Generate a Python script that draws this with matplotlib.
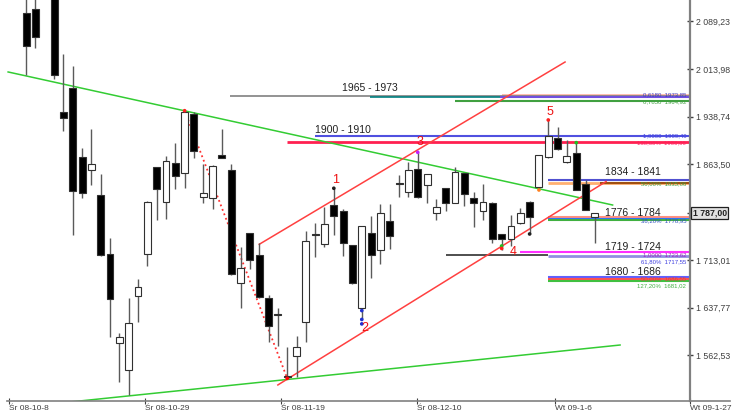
import matplotlib
matplotlib.use('Agg')
import matplotlib.pyplot as plt
from matplotlib.patches import Rectangle
from matplotlib.lines import Line2D

plt.rcParams['font.family'] = ['Liberation Sans', 'DejaVu Sans']

# ---------------- data ----------------
idx = [0, 1, 3, 4, 5, 6, 7, 8, 9, 10, 11, 12, 13, 14, 15, 16, 17, 18, 19, 20,
       21, 22, 23, 24, 25, 26, 27, 28, 29, 30, 31, 32, 33, 34, 35, 36, 37, 38,
       39, 40, 41, 42, 43, 44, 45, 46, 47, 48, 49, 50, 51, 52, 53, 54, 55, 56,
       57, 58, 59, 60, 61]
opens = [2102.8, 2108.1, 2140.0, 1946.7, 1984.5, 1874.7, 1854.2, 1815.3, 1722.3, 1581.4,
         1539.3, 1656.0, 1721.8, 1859.0, 1803.8, 1866.2, 1849.5, 1943.0, 1811.7, 1810.1,
         1878.4, 1854.7, 1677.0, 1754.9, 1720.7, 1652.4, 1628.0, 1530.0, 1561.4, 1615.5,
         1753.5, 1738.0, 1799.5, 1790.1, 1736.5, 1636.6, 1754.9, 1728.6, 1774.8, 1834.5,
         1820.5, 1855.8, 1831.1, 1786.4, 1825.9, 1803.2, 1849.5, 1811.0, 1790.1, 1802.2,
         1753.8, 1745.4, 1770.7, 1804.7, 1827.4, 1875.7, 1904.7, 1866.9, 1881.0, 1832.6,
         1781.1]
highs = [2135.0, 2130.0, 2150.0, 2037.2, 2018.7, 1888.9, 1918.9, 1848.4, 1748.0, 1598.1,
         1653.3, 1682.8, 1805.8, 1859.5, 1876.8, 1896.8, 1948.2, 1946.2, 1864.2, 1862.0,
         1918.9, 1864.2, 1733.8, 1755.5, 1739.1, 1657.6, 1637.6, 1576.1, 1593.4, 1758.5,
         1770.7, 1795.9, 1825.9, 1793.0, 1737.0, 1766.8, 1782.2, 1801.1, 1801.1, 1846.8,
         1867.8, 1882.6, 1848.5, 1808.5, 1826.5, 1859.9, 1850.0, 1820.5, 1832.2, 1804.7,
         1754.3, 1783.8, 1794.8, 1805.2, 1878.9, 1933.6, 1922.1, 1902.0, 1897.8, 1839.0,
         1787.5]
lows = [2004.5, 2047.1, 1998.2, 1916.2, 1752.2, 1811.0, 1831.1, 1718.5, 1590.9, 1520.9,
        1499.9, 1615.5, 1703.8, 1775.9, 1777.5, 1824.3, 1825.9, 1873.2, 1802.2, 1792.8,
        1873.2, 1689.0, 1636.6, 1698.1, 1652.9, 1583.0, 1577.6, 1526.2, 1528.8, 1583.9,
        1718.0, 1733.8, 1752.2, 1719.1, 1675.5, 1620.0, 1683.9, 1706.0, 1729.7, 1812.6,
        1812.6, 1811.0, 1802.2, 1775.9, 1790.1, 1802.8, 1798.0, 1765.3, 1775.9, 1739.1,
        1728.6, 1734.9, 1770.2, 1753.8, 1823.2, 1873.2, 1887.0, 1866.5, 1823.2, 1791.2,
        1739.1]
closes = [2050.7, 2064.9, 2004.5, 1936.2, 1822.1, 1818.9, 1863.7, 1720.7, 1650.8, 1591.8,
          1613.9, 1669.7, 1803.8, 1824.3, 1869.4, 1845.2, 1945.7, 1884.7, 1818.0, 1861.5,
          1874.1, 1690.7, 1699.7, 1712.8, 1654.0, 1609.2, 1626.5, 1528.5, 1575.1, 1743.2,
          1751.5, 1769.1, 1782.7, 1739.1, 1676.1, 1766.4, 1720.7, 1787.4, 1750.6, 1832.5,
          1854.7, 1811.5, 1847.9, 1796.8, 1802.2, 1852.0, 1816.4, 1802.2, 1804.7, 1745.4,
          1745.4, 1766.9, 1786.4, 1781.1, 1878.4, 1908.4, 1887.4, 1877.3, 1823.6, 1791.7,
          1787.0]

date_ticks = [-1.8, 12.75, 27.35, 41.9, 56.7, 71.2]
date_labels = ['Śr 08-10-8', 'Śr 08-10-29', 'Śr 08-11-19', 'Śr 08-12-10', 'Wt 09-1-6', 'Wt 09-1-27']
price_ticks = [2089.23, 2013.98, 1938.74, 1863.50, 1713.01, 1637.77, 1562.53]
last_price = 1787.00

# trend lines: (x0, y0, x1, y1, color, style)
trend_x0 = [-1.93, 3.5, 27.0, 25.0, 17.0]
trend_y0 = [2009.3, 1487.0, 1515.7, 1737.5, 1948.2]
trend_x1 = [62.9, 63.7, 62.2, 57.8, 28.0]
trend_y1 = [1799.5, 1578.7, 1836.5, 2025.0, 1526.2]
trend_col = ['#33cc33', '#33cc33', '#ff4040', '#ff4040', '#ff3030']
trend_ls = ['-', '-', '-', '-', ':']

# horizontal projection levels: price, start index, color, width
lvl_price = [1973.0, 1971.4, 1969.8, 1970.6, 1963.5,
             1908.3, 1898.1,
             1838.9, 1834.8, 1834.0,
             1780.6, 1778.0, 1775.5,
             1724.6, 1720.7, 1718.5,
             1685.2, 1682.2, 1679.0]
lvl_start = [51.0, 21.9, 36.9, 50.8, 46.0,
             31.0, 28.0,
             56.0, 56.0, 61.5,
             56.0, 56.0, 56.0,
             53.0, 45.0, 56.0,
             56.0, 56.0, 56.0]
lvl_end = [71.2, 71.2, 71.2, 71.2, 71.2,
           71.2, 71.2,
           71.2, 71.2, 71.2,
           71.2, 71.2, 71.2,
           71.2, 56.0, 71.2,
           71.2, 71.2, 71.2]
lvl_color = ['#ffb0a0', '#808080', '#008080', '#7050e0', '#40a040',
             '#5050e0', '#ff2050',
             '#5050d0', '#ffb070', '#a05010',
             '#ff9080', '#3070ff', '#40b040',
             '#ff30ff', '#303030', '#9090e0',
             '#6060ff', '#ff5050', '#40c040']
lvl_width = [1.2, 1.2, 1.2, 1.5, 1.5,
             1.5, 2.0,
             1.5, 2.0, 1.5,
             1.5, 1.5, 1.5,
             1.5, 1.2, 2.0,
             1.5, 1.5, 1.5]

range_text = ['1965 - 1973', '1900 - 1910', '1834 - 1841', '1776 - 1784', '1719 - 1724', '1680 - 1686']
range_x = [33.9, 31.0, 62.1, 62.1, 62.1, 62.1]
range_y = [1984.0, 1917.8, 1851.0, 1787.4, 1733.8, 1694.3]

fib_text = ['0,6180  1973,85', '0,7850  1964,92', '1,0000  1909,40', '138,60%  1900,00',
            '50,00%  1835,06', '38,20%  1778,95', '1,0000  1723,62', '61,80%  1717,55',
            '50,00%  1686,55', '127,20%  1681,02']
fib_y = [1973.0, 1961.5, 1909.0, 1897.5, 1832.5, 1774.0, 1720.5, 1710.5, 1682.5, 1672.5]
fib_col = ['#4040c0', '#40a040', '#4040e0', '#ff2060', '#40a040', '#3050c0', '#a020c0',
           '#4040e0', '#e04040', '#40b040']

wave_text = ['1', '2', '3', '4', '5']
wave_x = [33.2, 36.3, 42.2, 52.2, 56.2]
wave_y = [1839.0, 1605.5, 1898.9, 1725.4, 1946.2]

mark_x = [17, 28, 33, 42, 36, 36, 36, 51, 51, 54, 55, 56, 59]
mark_y = [1948.2, 1526.2, 1825.9, 1882.6, 1633.0, 1619.0, 1612.0, 1734.9, 1731.0, 1753.8,
          1823.2, 1933.6, 1897.8]
mark_c = ['#ff2020', '#ff0000', '#202020', '#c020ff', '#2030d0', '#2030d0', '#2030d0',
          '#20c020', '#ff2020', '#202020', '#ff8020', '#ff2020', '#20c020']

# ---------------- figure ----------------
fig = plt.figure(figsize=(7.4, 4.16), dpi=100)
ax = fig.add_axes([0, 15 / 416, 690 / 740, 401 / 416])
ax.set_xlim(-2.8, 71.2)
ax.set_ylim(1490.4, 2122.8)

# horizontal levels
for p, s, e, c, w in zip(lvl_price, lvl_start, lvl_end, lvl_color, lvl_width):
    ax.plot([s, e], [p, p], color=c, lw=w, zorder=2, solid_capstyle='butt')

# trend lines
for x0, y0, x1, y1, c, ls in zip(trend_x0, trend_y0, trend_x1, trend_y1, trend_col, trend_ls):
    ax.plot([x0, x1], [y0, y1], color=c, lw=1.1 if ls == '-' else 1.3, ls=ls, zorder=3)

# candles
bw = 0.74
for i, o, h, l, c in zip(idx, opens, highs, lows, closes):
    ax.plot([i, i], [l, h], color='#5a5a5a', lw=1.0, zorder=4, solid_capstyle='butt')
    bottom = min(o, c)
    height = max(abs(c - o), 1.2)
    fc = '#000000' if c < o else '#ffffff'
    ax.add_patch(Rectangle((i - bw / 2, bottom), bw, height, facecolor=fc,
                           edgecolor='#303030', lw=0.8, zorder=5))

# markers
ax.scatter(mark_x, mark_y, s=7, c=mark_c, zorder=6, linewidths=0)

# texts
for t, x, y in zip(range_text, range_x, range_y):
    ax.text(x, y, t, fontsize=7.5, color='#202020', ha='left', va='center', zorder=7)
for t, x, y in zip(wave_text, wave_x, wave_y):
    ax.text(x, y, t, fontsize=9, color='#ee1010', ha='center', va='center', zorder=7)
for t, y, c in zip(fib_text, fib_y, fib_col):
    ax.text(70.8, y, t, fontsize=4.3, color=c, ha='right', va='center', zorder=7)

# axes styling
for s in ['top', 'left', 'bottom']:
    ax.spines[s].set_visible(False)
ax.spines['right'].set_color('#808080')
ax.spines['right'].set_linewidth(1.6)
ax.yaxis.tick_right()
ax.set_yticks(price_ticks + [last_price])


def pl_fmt(v):
    return f"{v:,.2f}".replace(',', ' ').replace('.', ',')


ax.set_yticklabels([pl_fmt(v) for v in price_ticks] + [''])
ax.tick_params(axis='y', direction='inout', length=4, width=1, colors='#404040',
               labelsize=6.3, pad=2)
ax.set_xticks(date_ticks)
ax.set_xticklabels(date_labels, ha='left')
ax.tick_params(axis='x', direction='inout', length=4, width=0.8, colors='#404040',
               labelsize=6.0, pad=1)

ax.text(1.004, (last_price - 1490.4) / (2122.8 - 1490.4), pl_fmt(last_price),
        transform=ax.transAxes, fontsize=6.3, fontweight='bold', color='#202020',
        ha='left', va='center',
        bbox=dict(boxstyle='square,pad=0.15', facecolor='#e0e0e0', edgecolor='#202020', lw=0.9))

# extended x-axis baseline
fig.add_artist(Line2D([7 / 740, 730 / 740], [15 / 416, 15 / 416], color='#808080', lw=1.2))

fig.savefig('out.png', dpi=100)
